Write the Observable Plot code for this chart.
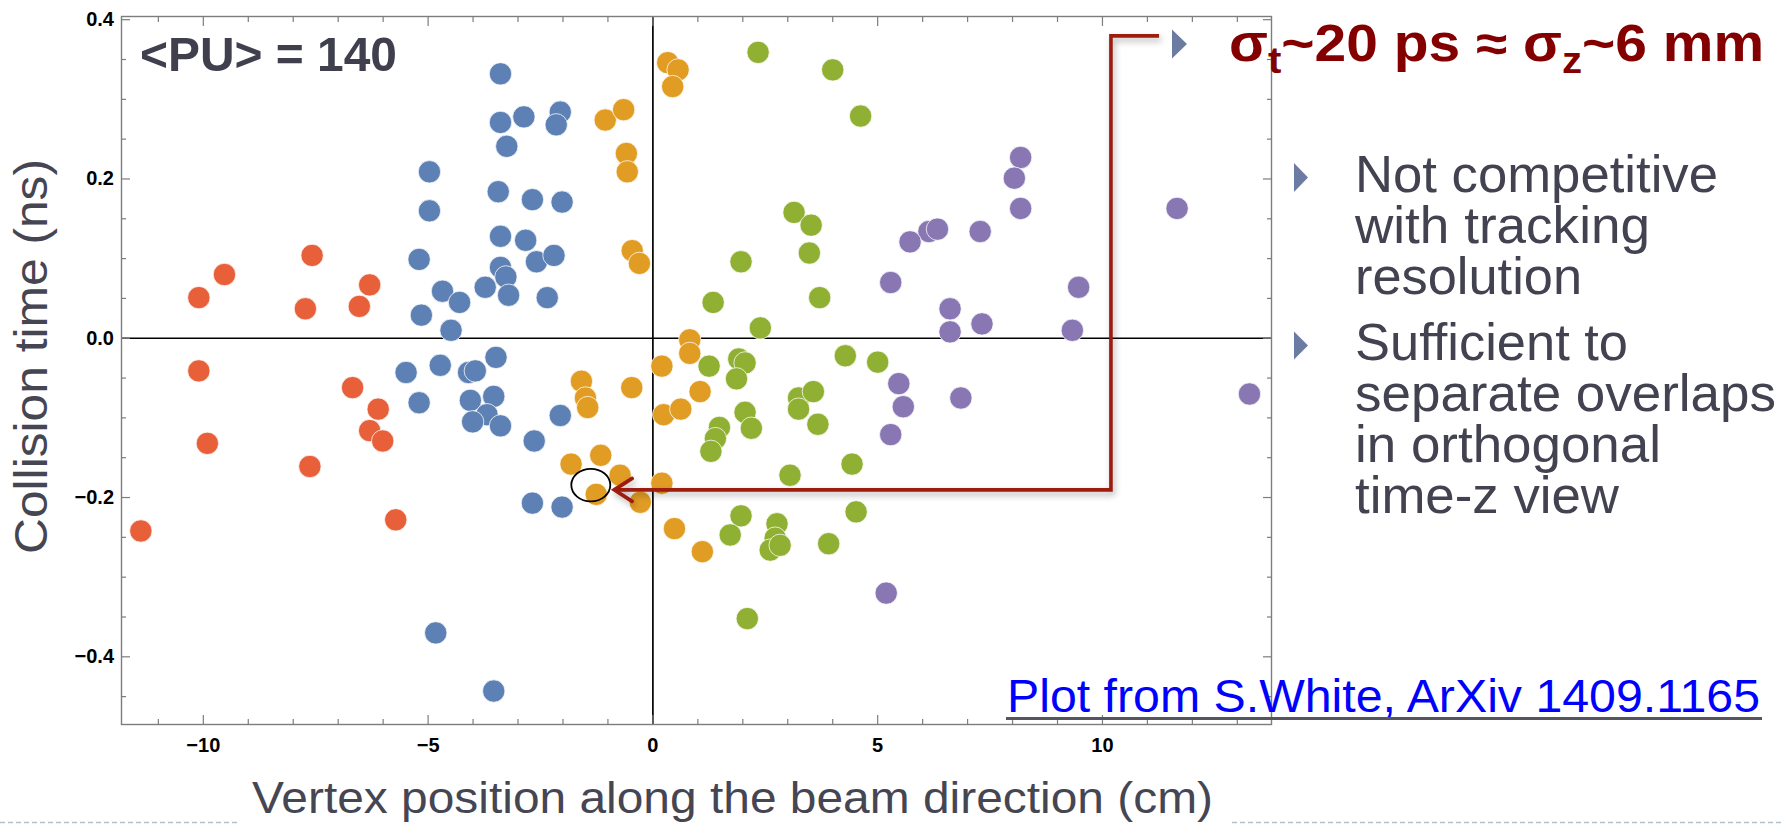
<!DOCTYPE html>
<html>
<head>
<meta charset="utf-8">
<script src="https://cdn.jsdelivr.net/npm/d3@7"></script>
<script src="https://cdn.jsdelivr.net/npm/@observablehq/plot@0.6"></script>
<style>
  html, body { margin: 0; padding: 0; background: #fff; }
  #chart svg { display: block; }
</style>
</head>
<body>
<div id="chart"></div>
<script>
// ---------------- data (vertex z in cm, collision time in ns) ----------------
const seriesNames = ["vertex group 1", "vertex group 2", "vertex group 3", "vertex group 4", "vertex group 5"];

const redX = [-10.10, -9.53, -7.58, -7.73, -6.30, -6.53, -10.10, -6.68, -6.11, -6.30, -6.01, -9.91, -7.63, -5.72, -11.39];
const redY = [0.051, 0.080, 0.104, 0.037, 0.067, 0.040, -0.041, -0.062, -0.089, -0.116, -0.129, -0.132, -0.161, -0.228, -0.242];

const blueX = [-3.39, -3.39, -2.87, -2.06, -2.15, -3.25, -4.97, -4.97, -3.44, -2.68, -2.02, -3.39, -2.83, -2.59, -2.20,
  -5.20, -3.39, -3.27, -3.73, -3.21, -2.35, -4.68, -4.30, -5.15, -4.49,
  -3.49, -4.73, -5.49, -4.10, -3.95, -5.20, -4.06, -3.54, -3.69, -4.01, -3.39, -2.06, -2.64, -2.68, -2.02, -4.83, -3.54];
const blueY = [0.332, 0.271, 0.278, 0.284, 0.268, 0.241, 0.209, 0.160, 0.184, 0.174, 0.171, 0.128, 0.123, 0.096, 0.104,
  0.099, 0.089, 0.077, 0.064, 0.054, 0.051, 0.059, 0.045, 0.029, 0.010,
  -0.024, -0.034, -0.043, -0.043, -0.041, -0.081, -0.078, -0.073, -0.096, -0.105, -0.110, -0.097, -0.129, -0.207, -0.212, -0.370, -0.443];

const orangeX = [-1.06, -0.65, 0.33, 0.56, 0.44, -0.59, -0.57, -0.46, -0.30, 0.82, 0.82, 0.20, -1.59, -1.50, -1.45,
  -0.47, 1.05, 0.24, 0.62, -1.82, -1.16, -0.73, -1.26, -0.28, 0.20, 0.48, 1.10];
const orangeY = [0.274, 0.287, 0.346, 0.337, 0.316, 0.232, 0.209, 0.110, 0.094, -0.002, -0.019, -0.035, -0.054, -0.075, -0.087,
  -0.062, -0.067, -0.096, -0.089, -0.158, -0.147, -0.172, -0.196, -0.206, -0.182, -0.239, -0.268];

const greenX = [2.34, 4.00, 4.62, 3.14, 3.52, 3.48, 1.96, 1.34, 3.71, 2.39,
  1.25, 1.91, 2.05, 4.28, 5.00, 1.86, 3.24, 3.57, 3.24, 2.05, 2.19, 3.67, 1.48, 1.39, 1.29,
  4.43, 3.05, 4.52, 1.96, 1.72, 2.76, 2.72, 2.61, 2.83, 3.91, 2.10];
const greenY = [0.359, 0.337, 0.279, 0.158, 0.142, 0.107, 0.096, 0.045, 0.051, 0.013,
  -0.035, -0.026, -0.031, -0.022, -0.030, -0.051, -0.075, -0.067, -0.089, -0.093, -0.113, -0.108, -0.112, -0.126, -0.142,
  -0.158, -0.172, -0.218, -0.223, -0.247, -0.233, -0.251, -0.266, -0.260, -0.258, -0.352];

const purpleX = [8.18, 8.04, 8.18, 6.14, 6.33, 5.72, 7.28, 5.29, 9.47, 6.61, 6.61, 7.32, 9.33, 11.66, 13.27, 5.47, 5.57, 6.85, 5.29, 5.19];
const purpleY = [0.227, 0.201, 0.163, 0.134, 0.137, 0.121, 0.134, 0.070, 0.064, 0.037, 0.008, 0.018, 0.010, 0.163, -0.070, -0.057, -0.086, -0.075, -0.121, -0.320];

// ticks
const xMajor = [-10, -5, 0, 5, 10];
const xMinor = [-11, -9, -8, -7, -6, -4, -3, -2, -1, 1, 2, 3, 4, 6, 7, 8, 9, 11, 12, 13];
const yMajor = [-0.4, -0.2, 0, 0.2, 0.4];
const yMinor = [-0.45, -0.35, -0.3, -0.25, -0.15, -0.1, -0.05, 0.05, 0.1, 0.15, 0.25, 0.3, 0.35];

// texts
const xTitle = "Vertex position along the beam direction (cm)";
const yTitle = "Collision time (ns)";
const puText = "<PU> = 140";
const bullet1 = ["Not competitive", "with tracking", "resolution"];
const bullet2 = ["Sufficient to", "separate overlaps", "in orthogonal", "time-z view"];
const linkText = "Plot from S.White, ArXiv 1409.1165";

// annotation anchors in data units
const circleAt = {x: -1.37, y: -0.185};
const arrowTip = {x: -0.85, y: -0.191};
const arrowCornerX = 10.2, arrowTopY = 0.379, arrowEndX = 11.27;

// ---------------- styles ----------------
const palette = ["#E8603A", "#5E81B5", "#E19C24", "#8FB032", "#8877B3"];
const FONT = "'Liberation Sans', Arial, Helvetica, sans-serif";
const frameGray = "#7d7d7d";

const points = [
  [seriesNames[0], redX, redY],
  [seriesNames[1], blueX, blueY],
  [seriesNames[2], orangeX, orangeY],
  [seriesNames[3], greenX, greenY],
  [seriesNames[4], purpleX, purpleY]
].flatMap(([s, xs, ys]) => xs.map((x, i) => ({series: s, x, y: ys[i]})));

const blank = () => "";
const tickOpts = {tickFormat: blank, stroke: frameGray, strokeWidth: 1.2, label: null};

const plot = Plot.plot({
  width: 1783,
  height: 824,
  marginLeft: 121,
  marginRight: 512,
  marginTop: 16,
  marginBottom: 100,
  x: {domain: [-11.82, 13.76], axis: null},
  y: {domain: [-0.485, 0.404], axis: null},
  color: {type: "ordinal", domain: seriesNames, range: palette},
  style: {fontFamily: FONT, background: "white", overflow: "visible"},
  marks: [
    Plot.ruleX([0], {stroke: "black", strokeWidth: 1.7}),
    Plot.ruleY([0], {stroke: "black", strokeWidth: 1.7}),
    Plot.dot(points, {x: "x", y: "y", fill: "series", r: 11.2, stroke: "white", strokeWidth: 1, strokeOpacity: 0.75}),
    Plot.frame({stroke: frameGray, strokeWidth: 1.4}),
    Plot.axisX(xMinor, {anchor: "bottom", tickSize: 5, dy: -5, ...tickOpts}),
    Plot.axisX(xMajor, {anchor: "bottom", tickSize: 9, dy: -9, ...tickOpts}),
    Plot.axisX(xMinor, {anchor: "top", tickSize: 5, dy: 5, ...tickOpts}),
    Plot.axisX(xMajor, {anchor: "top", tickSize: 9, dy: 9, ...tickOpts}),
    Plot.axisY(yMinor, {anchor: "left", tickSize: 5, dx: 5, ...tickOpts}),
    Plot.axisY(yMajor, {anchor: "left", tickSize: 9, dx: 9, ...tickOpts}),
    Plot.axisY(yMinor, {anchor: "right", tickSize: 5, dx: -5, ...tickOpts}),
    Plot.axisY(yMajor, {anchor: "right", tickSize: 9, dx: -9, ...tickOpts}),
    Plot.axisX(xMajor, {anchor: "bottom", tickSize: 0, tickPadding: 13, tickFormat: d3.format("d"),
      fontSize: 20, fontWeight: "bold", fill: "black", label: null}),
    Plot.axisY(yMajor, {anchor: "left", tickSize: 0, tickPadding: 7.5, tickFormat: d3.format(".1f"),
      fontSize: 20, fontWeight: "bold", fill: "black", label: null})
  ]
});

document.getElementById("chart").appendChild(plot);

// ---------------- annotations ----------------
const svg = d3.select(plot);
const sx = plot.scale("x"), sy = plot.scale("y");
const X = v => sx.apply(v), Y = v => sy.apply(v);

const defs = svg.append("defs");
const f = defs.append("filter").attr("id", "shadow").attr("x", "-20%").attr("y", "-20%").attr("width", "140%").attr("height", "140%");
f.append("feDropShadow").attr("dx", 2).attr("dy", 3.5).attr("stdDeviation", 3)
  .attr("flood-color", "#000").attr("flood-opacity", 0.3);

const ann = svg.append("g").attr("text-anchor", "start");

// black circle around the highlighted vertex
ann.append("ellipse")
  .attr("cx", X(circleAt.x)).attr("cy", Y(circleAt.y))
  .attr("rx", 19.5).attr("ry", 16.3)
  .attr("fill", "none").attr("stroke", "black").attr("stroke-width", 1.8);

// red connector with arrow
const red = "#9c1a10";
const tipX = X(arrowTip.x), tipY = Y(arrowTip.y);
const g = ann.append("g").attr("filter", "url(#shadow)");
g.append("path")
  .attr("d", `M${X(arrowEndX)},${Y(arrowTopY)}H${X(arrowCornerX)}V${tipY}H${tipX + 1}`)
  .attr("fill", "none").attr("stroke", red).attr("stroke-width", 3.6).attr("stroke-linejoin", "miter");
g.append("path")
  .attr("d", `M${tipX + 18},${tipY - 11.5}L${tipX},${tipY}L${tipX + 18},${tipY + 11.5}`)
  .attr("fill", "none").attr("stroke", red).attr("stroke-width", 3.6).attr("stroke-linecap", "round");

const addText = (t, x, y, size, opts = {}) => {
  const el = ann.append("text").text(t)
    .attr("x", x).attr("y", y)
    .attr("text-anchor", "start")
    .attr("font-family", FONT).attr("font-size", size)
    .attr("fill", opts.fill || "black");
  if (opts.bold) el.attr("font-weight", "bold");
  if (opts.len) el.attr("textLength", opts.len).attr("lengthAdjust", "spacingAndGlyphs");
  if (opts.transform) el.attr("transform", opts.transform).attr("x", 0).attr("y", 0);
  return el;
};

// <PU> = 140
addText(puText, 140, 71, 49, {bold: true, fill: "#3f3f4d", len: 257});

// axis titles
addText(xTitle, 252, 813, 43.5, {fill: "#464653", len: 961});
addText(yTitle, 0, 0, 46, {fill: "#464653", len: 395, transform: "translate(47,554) rotate(-90)"});

// bullets
const bulletColor = "#6c7ba2";
const tri = (x, cy, w, h) => `M${x},${cy - h / 2}L${x + w},${cy}L${x},${cy + h / 2}Z`;
ann.append("path").attr("d", tri(1172, 44, 15, 29)).attr("fill", bulletColor);
ann.append("path").attr("d", tri(1294, 177.5, 14, 29)).attr("fill", bulletColor);
ann.append("path").attr("d", tri(1294, 345.5, 14, 28)).attr("fill", bulletColor);

// sigma headline
const sig = ann.append("text")
  .attr("x", 1229).attr("y", 61).attr("text-anchor", "start")
  .attr("font-family", FONT).attr("font-weight", "bold").attr("font-size", 51)
  .attr("fill", "#840000")
  .attr("textLength", 535).attr("lengthAdjust", "spacingAndGlyphs");
sig.append("tspan").text("σ");
sig.append("tspan").attr("font-size", 36).attr("dy", 12).text("t");
sig.append("tspan").attr("dy", -12).text("~20 ps ≈ σ");
sig.append("tspan").attr("font-size", 36).attr("dy", 12).text("z");
sig.append("tspan").attr("dy", -12).text("~6 mm");

// bullet text lines
const textColor = "#424250";
const b1Widths = [363, 295, 227];
const b2Widths = [273, 421, 306, 264];
bullet1.forEach((t, i) => addText(t, 1355, 191.5 + i * 51, 52, {fill: textColor, len: b1Widths[i]}));
bullet2.forEach((t, i) => addText(t, 1355, 360 + i * 51, 52, {fill: textColor, len: b2Widths[i]}));

// source link
addText(linkText, 1007, 711.5, 47, {fill: "#0000ff", len: 753});
ann.append("line").attr("x1", 1006).attr("x2", 1762).attr("y1", 718.5).attr("y2", 718.5)
  .attr("stroke", "#55555f").attr("stroke-width", 3);

// slide decoration: dashed rule at the bottom
[[0, 238], [1232, 1783]].forEach(([a, b]) => {
  ann.append("line").attr("x1", a).attr("x2", b).attr("y1", 822.5).attr("y2", 822.5)
    .attr("stroke", "#b3c1cc").attr("stroke-width", 1.5).attr("stroke-dasharray", "5,3");
});
</script>
</body>
</html>
